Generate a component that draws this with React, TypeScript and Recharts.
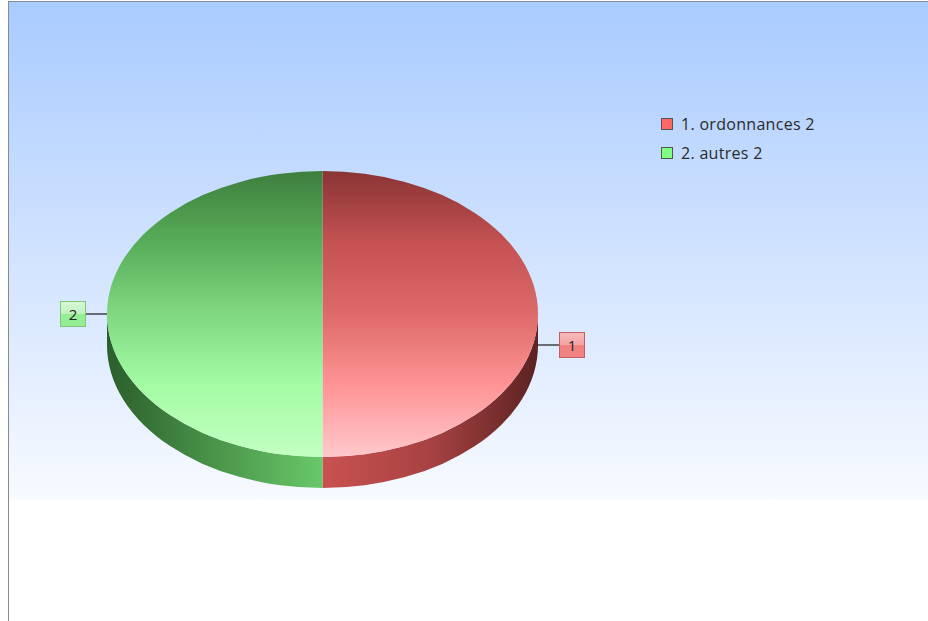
import { PieChart, Pie, Cell, Legend } from 'recharts'

// chart data
const categories = ['1. ordonnances', '2. autres']
const values = [2, 2]
const sliceLabels = ['1', '2']

// palette
const baseColors = ['#ff6666', '#80ff80']
const topStops = [
  ['#8a3434', '#c45252', '#dd6a6a', '#ff9494', '#ffc8cc'],
  ['#3e7e3e', '#58ad58', '#80d880', '#a4fca4', '#c2ffc2'],
]
const wallStops = [
  ['#c95151', '#a84242', '#5c2222'],
  ['#2b5e2b', '#4a944a', '#68c868'],
]
const boxColors = [
  { top: '#f7bcbc', mid: '#f2a4a4', bottom: '#f08282', border: '#c06060' },
  { top: '#d8f8d8', mid: '#c0f2c0', bottom: '#94ee94', border: '#80c480' },
]

const RATIO = 143 / 215.5
const DEPTH = 31
const RAD = Math.PI / 180

const rows = categories.map((name, i) => ({ name, value: values[i], idx: i }))

function ellipsePoint(cx: number, cy: number, rx: number, ry: number, angle: number, dy = 0) {
  return [cx + rx * Math.cos(-angle * RAD), cy + ry * Math.sin(-angle * RAD) + dy]
}

function Slice3D(props: any) {
  const { cx, cy, outerRadius, startAngle, endAngle } = props
  const idx = props.payload?.idx ?? props.idx ?? 0
  const rx = outerRadius
  const ry = outerRadius * RATIO
  const p = (a: number, dy = 0) => ellipsePoint(cx, cy, rx, ry, a, dy)

  const [sx, sy] = p(startAngle)
  const [ex, ey] = p(endAngle)
  const large = Math.abs(endAngle - startAngle) > 180 ? 1 : 0
  const sweep = startAngle > endAngle ? 1 : 0
  const top = `M${cx},${cy} L${sx},${sy} A${rx},${ry} 0 ${large} ${sweep} ${ex},${ey} Z`

  // visible side wall: the part of the arc lying on the lower half of the ellipse
  const lo = Math.min(startAngle, endAngle)
  const hi = Math.max(startAngle, endAngle)
  const walls: string[] = []
  for (let k = -2; k <= 2; k++) {
    const a = Math.max(lo, -180 + 360 * k)
    const b = Math.min(hi, 360 * k)
    if (b - a > 0.01) {
      const [ax, ay] = p(a)
      const [bx, by] = p(b)
      const [bx2, by2] = p(b, DEPTH)
      const [ax2, ay2] = p(a, DEPTH)
      walls.push(
        `M${ax},${ay} A${rx},${ry} 0 0 0 ${bx},${by} L${bx2},${by2} A${rx},${ry} 0 0 1 ${ax2},${ay2} Z`
      )
    }
  }

  return (
    <g>
      {walls.map((d, i) => (
        <path key={i} d={d} fill={`url(#wall-${idx})`} stroke="none" />
      ))}
      <path d={top} fill={`url(#top-${idx})`} stroke="none" />
    </g>
  )
}

function SliceLabel(props: any) {
  const { cx, cy, outerRadius, midAngle, index } = props
  const rx = outerRadius
  const ry = outerRadius * RATIO
  const cos = Math.cos(midAngle * RAD)
  const [ax, ay] = ellipsePoint(cx, cy, rx, ry, midAngle, cos > 0.01 ? DEPTH : 0)
  const right = cos >= 0
  const lineLen = 21
  const size = 26
  const lx = right ? ax + lineLen : ax - lineLen
  const boxX = right ? lx : lx - size
  return (
    <g>
      <line x1={ax} y1={ay} x2={lx} y2={ay} stroke="#1a1a1a" strokeWidth={1.2} />
      <rect
        x={boxX + 0.5}
        y={ay - size / 2 + 0.5}
        width={size - 1}
        height={size - 1}
        fill={`url(#box-${index})`}
        stroke={boxColors[index].border}
        strokeWidth={1}
      />
      <text
        x={boxX + size / 2}
        y={ay + 5.5}
        textAnchor="middle"
        fontFamily="'Open Sans', sans-serif"
        fontSize={15}
        fill="#222"
      >
        {sliceLabels[index]}
      </text>
    </g>
  )
}

const LegendBox = () => (
  <div style={{ fontFamily: "'Open Sans', sans-serif", fontSize: 16, letterSpacing: 0.3, color: '#2a2a2a' }}>
    {categories.map((c, i) => (
      <div key={c} style={{ display: 'flex', alignItems: 'center', height: 29 }}>
        <div
          style={{
            width: 10,
            height: 10,
            background: baseColors[i],
            border: '1px solid #555',
            marginRight: 8,
          }}
        />
        <span>
          {c} {values[i]}
        </span>
      </div>
    ))}
  </div>
)

export default function App() {
  return (
    <div
      style={{
        position: 'fixed',
        left: 8,
        top: 1,
        width: 930,
        height: 630,
        overflow: 'hidden',
        borderLeft: '1px solid #8a8a8a',
        borderTop: '1px solid #8a8a8a',
        background: 'linear-gradient(180deg, #a9cbff 0px, #f7faff 497px, #ffffff 498px)',
      }}
    >
      <PieChart width={930} height={630} margin={{ top: 0, right: 0, bottom: 0, left: 0 }}>
        <defs>
          {topStops.map((stops, i) => (
            <linearGradient key={i} id={`top-${i}`} x1="0" y1="0" x2="0" y2="1">
              {stops.map((s, j) => (
                <stop key={j} offset={j / (stops.length - 1)} stopColor={s} />
              ))}
            </linearGradient>
          ))}
          {wallStops.map((stops, i) => (
            <linearGradient key={i} id={`wall-${i}`} x1="0" y1="0" x2="1" y2="0">
              {stops.map((s, j) => (
                <stop key={j} offset={j / (stops.length - 1)} stopColor={s} />
              ))}
            </linearGradient>
          ))}
          {boxColors.map((b, i) => (
            <linearGradient key={i} id={`box-${i}`} x1="0" y1="0" x2="0" y2="1">
              <stop offset="0" stopColor={b.top} />
              <stop offset="0.48" stopColor={b.mid} />
              <stop offset="0.5" stopColor={b.bottom} />
              <stop offset="1" stopColor={b.bottom} />
            </linearGradient>
          ))}
        </defs>
        <Pie
          data={rows}
          dataKey="value"
          nameKey="name"
          cx={313.5}
          cy={312}
          outerRadius={215.5}
          startAngle={90}
          endAngle={-270}
          stroke="none"
          shape={Slice3D}
          label={SliceLabel}
          labelLine={false}
          isAnimationActive={false}
        >
          {rows.map((r, i) => (
            <Cell key={r.name} fill={baseColors[i]} />
          ))}
        </Pie>
        <Legend
          content={<LegendBox />}
          wrapperStyle={{ position: 'absolute', left: 652, top: 107, width: 260 }}
        />
      </PieChart>
    </div>
  )
}
